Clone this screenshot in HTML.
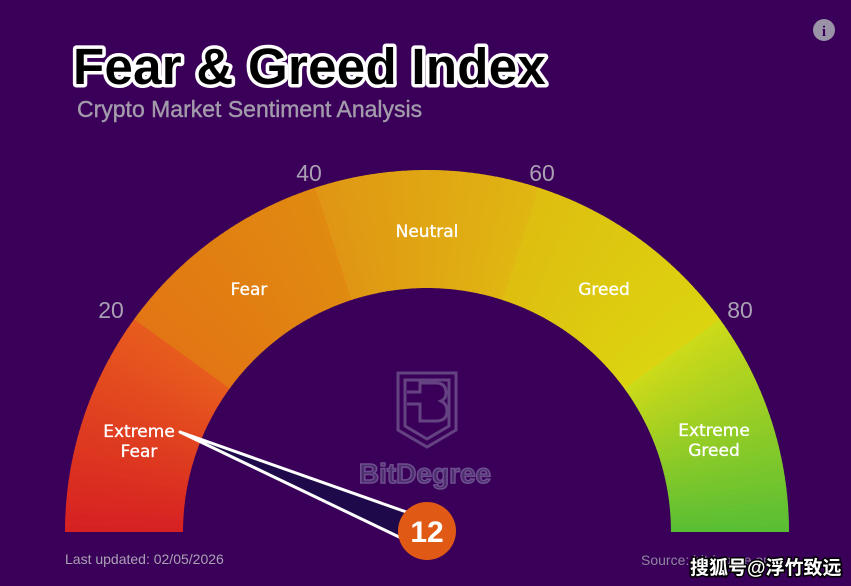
<!DOCTYPE html>
<html><head><meta charset="utf-8"><style>
html,body{margin:0;padding:0;background:#3a0059;}
svg{display:block}
</style></head><body>
<svg id="s" width="851" height="586" viewBox="0 0 851 586" xmlns="http://www.w3.org/2000/svg" font-family="Liberation Sans, sans-serif">
<rect width="851" height="586" fill="#3a0059"/>
<g id="arc"></g>
<text x="73" y="84" font-size="51" font-weight="bold" fill="#000" stroke="#fff" stroke-width="7" paint-order="stroke" stroke-linejoin="round" letter-spacing="0.3">Fear &amp; Greed Index</text>
<text x="77" y="117" font-size="23" fill="#a39bab" stroke="#a39bab" stroke-width="0.4">Crypto Market Sentiment Analysis</text>
<circle cx="824" cy="30" r="11" fill="#9a92a6"/>
<text x="824" y="36" font-size="15" font-weight="bold" fill="#3a0059" text-anchor="middle" font-family="Liberation Serif, serif">i</text>
<g font-size="23" fill="#a9a1b3" text-anchor="middle">
<text x="111" y="318">20</text><text x="309" y="181">40</text><text x="542" y="181">60</text><text x="740" y="318">80</text>
</g>
<g font-size="17" fill="#fff" text-anchor="middle" font-family="DejaVu Sans, sans-serif" stroke="#fff" stroke-width="0.3">
<text x="139" y="437">Extreme</text><text x="139" y="457">Fear</text>
<text x="249" y="295">Fear</text>
<text x="427" y="237">Neutral</text>
<text x="604" y="295">Greed</text>
<text x="714" y="436">Extreme</text><text x="714" y="456">Greed</text>
</g>
<g fill="none" stroke="#6a4a86" stroke-width="3" opacity="0.9">
<path d="M398,373 H456 V430 L427,447 L398,430 Z"/>
<path d="M405,380 H449 V426 L427,439 L405,426 Z"/>
<path d="M407,392 H420 V383 H436 Q446,383 446,393 Q446,399 441,401 Q447,404 447,411 Q447,421 436,421 H420 V404 H407"/>
</g>
<text x="425" y="483" font-size="28" font-weight="bold" fill="#4e2d6e" stroke="#6e5090" stroke-width="1.5" text-anchor="middle">BitDegree</text>
<path d="M180,432 L412,514 L420,547 Z" fill="#1e0a4a" stroke="#fff" stroke-width="3" stroke-linejoin="round"/>
<circle cx="427" cy="531" r="29" fill="#e05a16"/>
<text x="427" y="542" font-size="30" font-weight="bold" fill="#fff" text-anchor="middle">12</text>
<text x="65" y="564" font-size="14" fill="#aaa2b4">Last updated: 02/05/2026</text>
<text x="641" y="565" font-size="14" fill="#8e86a0">Source: bitdegree.org</text>
<text x="690" y="574" font-size="19" font-weight="bold" fill="#fff" stroke="#000" stroke-width="3" paint-order="stroke" font-family="Liberation Sans, Noto Sans CJK SC, sans-serif">搜狐号@浮竹致远</text>
</svg>
<script>
var g=document.getElementById('arc'),cx=427,cy=532,R=362,r=244;
var stops=[[0,[214,32,34]],[35.9,[232,92,30]],[36,[226,118,20]],[71.9,[224,138,16]],[72,[224,150,20]],[108,[224,182,18]],[108.1,[222,190,16]],[143.9,[220,212,16]],[144,[205,218,25]],[180,[88,190,52]]];
function col(a){for(var i=0;i<stops.length-1;i++){var A=stops[i],B=stops[i+1];if(a>=A[0]&&a<=B[0]){var t=(a-A[0])/(B[0]-A[0]);return 'rgb('+A[1].map(function(v,k){return Math.round(v+(B[1][k]-v)*t)}).join(',')+')';}}return 'rgb(88,190,52)';}
var h='';for(var a=0;a<180;a+=1){var a1=a*Math.PI/180,a2=Math.min(a+1.3,180)*Math.PI/180;
function p(rr,aa){return (cx-rr*Math.cos(aa)).toFixed(2)+','+(cy-rr*Math.sin(aa)).toFixed(2);}
h+='<path d="M'+p(R,a1)+' A'+R+','+R+' 0 0 1 '+p(R,a2)+' L'+p(r,a2)+' A'+r+','+r+' 0 0 0 '+p(r,a1)+' Z" fill="'+col(a+0.5)+'"/>';}
g.innerHTML=h;
</script>
</body></html>
